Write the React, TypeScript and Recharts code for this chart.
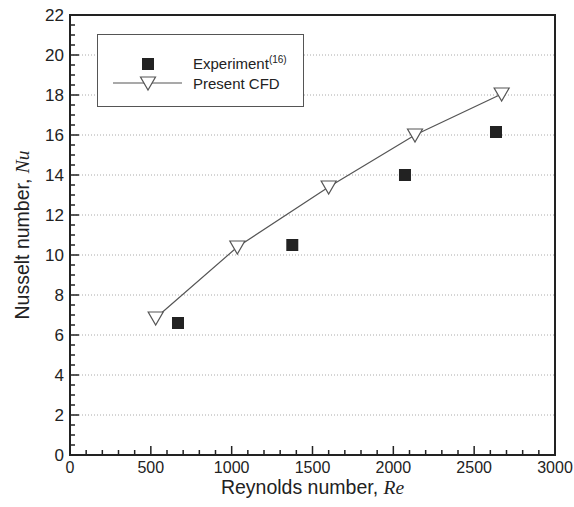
import React from "react";
import {
  ComposedChart, Line, Scatter, XAxis, YAxis, ReferenceLine, ReferenceArea, Label,
} from "recharts";

const cfdRe = [530, 1035, 1600, 2134, 2670];
const cfdNu = [6.85, 10.4, 13.4, 16.0, 18.05];
const expRe = [668, 1375, 2072, 2635];
const expNu = [6.6, 10.5, 14.0, 16.15];

const xMajor = [0, 500, 1000, 1500, 2000, 2500, 3000];
const yMajor = [0, 2, 4, 6, 8, 10, 12, 14, 16, 18, 20, 22];
const gridY = [2, 4, 6, 8, 10, 12, 14, 16, 18, 20];

const xTicks = Array.from({ length: 31 }, (_, i) => i * 100);
const yTicks = Array.from({ length: 45 }, (_, i) => i * 0.5);

const cfdData = cfdRe.map((re, i) => ({ re, nu: cfdNu[i] }));
const expData = expRe.map((re, i) => ({ re, nu: expNu[i] }));

const FONT = "'Liberation Sans', Arial, sans-serif";
const INK = "#222";

function XTick({ x, y, payload }: any) {
  const major = xMajor.includes(payload.value);
  return (
    <g>
      <line x1={x} x2={x} y1={y} y2={y - (major ? 9 : 5)} stroke={INK} strokeWidth={1.5} />
      {major && (
        <text x={x} y={y + 18} textAnchor="middle" fontSize={16} fontFamily={FONT} fill={INK}>
          {payload.value}
        </text>
      )}
    </g>
  );
}

function YTick({ x, y, payload }: any) {
  const major = yMajor.includes(payload.value);
  return (
    <g>
      <line x1={x} x2={x + (major ? 9 : 5)} y1={y} y2={y} stroke={INK} strokeWidth={1.5} />
      {major && (
        <text x={x - 6} y={y + 6} textAnchor="end" fontSize={17} fontFamily={FONT} fill={INK}>
          {payload.value}
        </text>
      )}
    </g>
  );
}

function Tri({ cx, cy }: any) {
  if (cx == null || cy == null) return null;
  return (
    <polygon
      points={`${cx - 7.5},${cy - 6} ${cx + 7.5},${cy - 6} ${cx},${cy + 7}`}
      fill="#fff" stroke="#555" strokeWidth={1.2}
    />
  );
}

function Sq({ cx, cy }: any) {
  return <rect x={cx - 6} y={cy - 6} width={12} height={12} fill={INK} />;
}

function LegendBox() {
  return (
    <div style={{
      position: "absolute", left: 97, top: 34, width: 205, height: 71,
      border: "1px solid #555", background: "#fff", fontFamily: FONT, fontSize: 15, color: INK,
    }}>
      <svg width={205} height={71} style={{ position: "absolute", left: 0, top: 0 }}>
        <rect x={44} y={23} width={12} height={12} fill={INK} />
        <line x1={15} x2={84} y1={48} y2={48} stroke="#555" strokeWidth={1.2} />
        <polygon points="42.5,42 57.5,42 50,55" fill="#fff" stroke="#555" strokeWidth={1.2} />
        <text x={95} y={34} fontSize={15} fontFamily={FONT} fill={INK}>
          Experiment<tspan fontSize={10} dy={-6}>(16)</tspan>
        </text>
        <text x={95} y={54} fontSize={15} fontFamily={FONT} fill={INK}>Present CFD</text>
      </svg>
    </div>
  );
}

export default function App() {
  return (
    <div style={{ position: "relative", width: 574, height: 507, background: "#fff" }}>
      <style>{`body{margin:0}`}</style>
      <ComposedChart width={574} height={507} margin={{ top: 15, right: 19, left: 0, bottom: 0 }}>
        <XAxis
          type="number" dataKey="re" domain={[0, 3000]} ticks={xTicks} interval={0}
          tick={<XTick />} tickLine={false} tickSize={0} tickMargin={0} height={52}
          axisLine={{ stroke: INK, strokeWidth: 2 }} allowDuplicatedCategory={false}
        >
          <Label
            content={({ viewBox }: any) => (
              <text x={viewBox.x + viewBox.width / 2} y={494} textAnchor="middle"
                fontSize={19.5} fontFamily={FONT} fill={INK}>
                Reynolds number, <tspan fontStyle="italic" fontFamily="'Liberation Serif', serif">Re</tspan>
              </text>
            )}
          />
        </XAxis>
        <YAxis
          type="number" dataKey="nu" domain={[0, 22]} ticks={yTicks} interval={0}
          tick={<YTick />} tickLine={false} tickSize={0} tickMargin={0} width={70}
          axisLine={{ stroke: INK, strokeWidth: 2 }}
        >
          <Label
            content={({ viewBox }: any) => {
              const cy = viewBox.y + viewBox.height / 2;
              return (
                <text x={22} y={cy} transform={`rotate(-90 22 ${cy})`} textAnchor="middle"
                  fontSize={19.5} fontFamily={FONT} fill={INK} dy={7}>
                  Nusselt number, <tspan fontStyle="italic" fontFamily="'Liberation Serif', serif">Nu</tspan>
                </text>
              );
            }}
          />
        </YAxis>
        {gridY.map((v) => (
          <ReferenceLine key={v} y={v} stroke="#aaa" strokeDasharray="1 2" strokeWidth={1} />
        ))}
        <ReferenceArea x1={0} x2={3000} y1={0} y2={22} fill="none" stroke={INK} strokeWidth={2} />
        <Line
          data={cfdData} dataKey="nu" stroke="#555" strokeWidth={1.2} type="linear"
          dot={<Tri />} activeDot={false} isAnimationActive={false}
        />
        <Scatter data={expData} dataKey="nu" shape={<Sq />} isAnimationActive={false} />
      </ComposedChart>
      <LegendBox />
    </div>
  );
}
